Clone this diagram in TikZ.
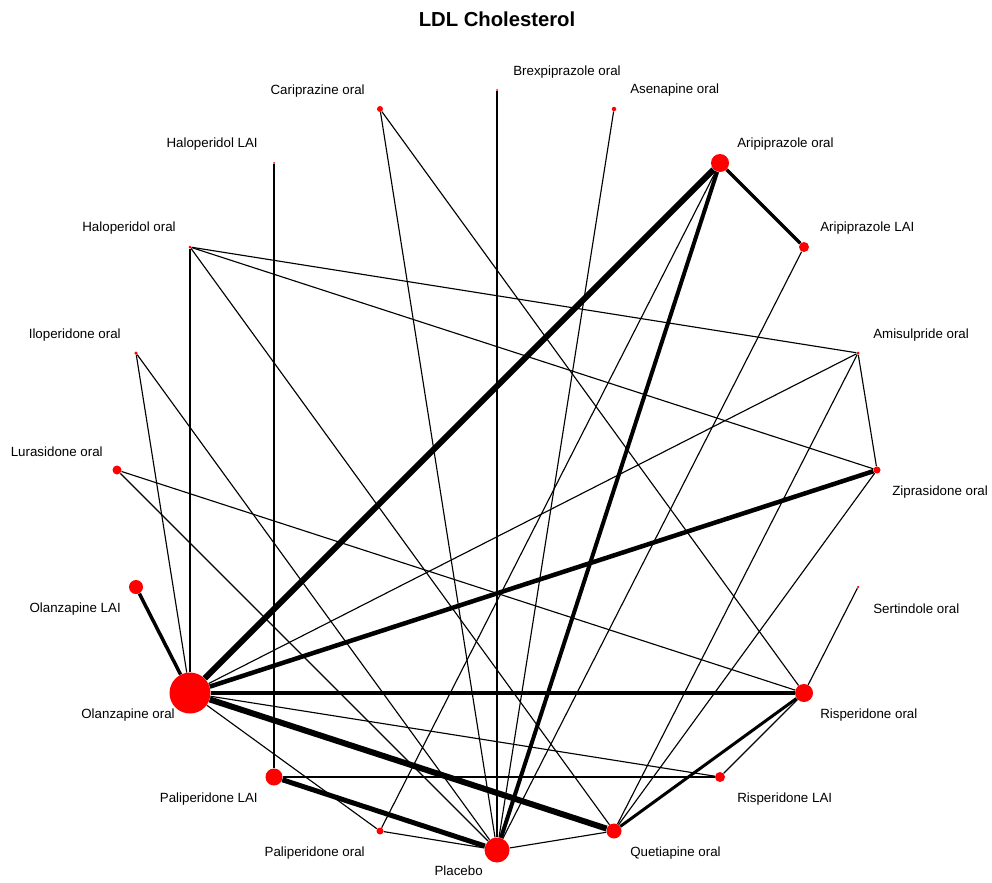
\documentclass[tikz,border=0pt]{standalone}
\usepackage{fontspec}
\setmainfont{Liberation Sans}
\usetikzlibrary{positioning,backgrounds}

\begin{document}
\begin{tikzpicture}[x=0.75pt, y=-0.75pt,
    dot/.style={circle, fill=red, draw=none, inner sep=0pt, minimum size=#1*0.75pt},
    lbl/.style={font=\fontsize{10}{12}\selectfont, inner sep=0pt},
    link/.style={draw=black, line width=#1},
    link/.default=0.85pt]
            \useasboundingbox (0,0) rectangle (992,882);

            % Title
            \node[font=\bfseries\fontsize{15.2}{18}\selectfont] (title) at (497,19) {LDL Cholesterol};

            % Treatments (clockwise from the top)
            \node[dot=2] (brex) at (497,90) {};
            \node[dot=4.5] (asen) at (614,109) {};
            \node[dot=18] (aripo) at (720,163) {};
            \node[dot=10] (aripl) at (804,247) {};
            \node[dot=3] (amis) at (858,353) {};
            \node[dot=7] (zipr) at (877,470) {};
            \node[dot=2.5] (sert) at (858,587) {};
            \node[dot=18] (rispo) at (804,693) {};
            \node[dot=10] (rispl) at (720,777) {};
            \node[dot=15] (quet) at (614,831) {};
            \node[dot=25] (plac) at (497,850) {};
            \node[dot=7] (palio) at (380,831) {};
            \node[dot=17] (palil) at (274,777) {};
            \node[dot=41] (olzo) at (190,693) {};
            \node[dot=14] (olzl) at (136,587) {};
            \node[dot=9] (luras) at (117,470) {};
            \node[dot=3.5] (ilo) at (136,353) {};
            \node[dot=3] (halo) at (190,247) {};
            \node[dot=2] (hall) at (274,163) {};
            \node[dot=6] (cari) at (380,109) {};

            % Labels, right half
            \node[lbl, anchor=west] (brexlbl) at ([shift={(16,-18)}]brex.center) {Brexpiprazole oral};
            \node[lbl, anchor=west] (asenlbl) at ([shift={(16,-19)}]asen.center) {Asenapine oral};
            \node[lbl, anchor=west] (aripolbl) at ([shift={(17,-19)}]aripo.center) {Aripiprazole oral};
            \node[lbl, anchor=west] (ariplbl) at ([shift={(16,-19)}]aripl.center) {Aripiprazole LAI};
            \node[lbl, anchor=west] (amislbl) at ([shift={(15,-18)}]amis.center) {Amisulpride oral};
            \node[lbl, anchor=west] (ziprlbl) at ([shift={(15,22)}]zipr.center) {Ziprasidone oral};
            \node[lbl, anchor=west] (sertlbl) at ([shift={(15,22)}]sert.center) {Sertindole oral};
            \node[lbl, anchor=west] (rispolbl) at ([shift={(16,22)}]rispo.center) {Risperidone oral};
            \node[lbl, anchor=west] (rispllbl) at ([shift={(17,22)}]rispl.center) {Risperidone LAI};
            \node[lbl, anchor=west] (quetlbl) at ([shift={(16,22)}]quet.center) {Quetiapine oral};

            % Labels, left half
            \node[lbl, anchor=east] (placlbl) at ([shift={(-14,21)}]plac.center) {Placebo};
            \node[lbl, anchor=east] (paliolbl) at ([shift={(-15,22)}]palio.center) {Paliperidone oral};
            \node[lbl, anchor=east] (palillbl) at ([shift={(-16,22)}]palil.center) {Paliperidone LAI};
            \node[lbl, anchor=east] (olzolbl) at ([shift={(-15,22)}]olzo.center) {Olanzapine oral};
            \node[lbl, anchor=east] (olzllbl) at ([shift={(-15,22)}]olzl.center) {Olanzapine LAI};
            \node[lbl, anchor=east] (luraslbl) at ([shift={(-14,-18)}]luras.center) {Lurasidone oral};
            \node[lbl, anchor=east] (ilolbl) at ([shift={(-15,-18)}]ilo.center) {Iloperidone oral};
            \node[lbl, anchor=east] (halolbl) at ([shift={(-14,-19)}]halo.center) {Haloperidol oral};
            \node[lbl, anchor=east] (halllbl) at ([shift={(-16,-19)}]hall.center) {Haloperidol LAI};
            \node[lbl, anchor=east] (carilbl) at ([shift={(-15,-18)}]cari.center) {Cariprazine oral};

            \begin{pgfonlayer}{background}
            % Comparisons with olanzapine oral
            \draw[link=4.5pt] (olzo) -- (aripo);
            \draw[link=3.4pt] (olzo) -- (zipr);
            \draw[link=3.4pt] (olzo) -- (rispo);
            \draw[link=4.5pt] (olzo) -- (quet);
            \draw[link=2.6pt] (olzo) -- (olzl);
            \draw[link] (olzo) -- (halo);
            \draw[link] (olzo) -- (ilo);
            \draw[link] (olzo) -- (amis);
            \draw[link] (olzo) -- (rispl);
            \draw[link] (olzo) -- (palio);

            % Comparisons with placebo
            \draw[link=3pt] (plac) -- (aripo);
            \draw[link=3.75pt] (plac) -- (palil);
            \draw[link] (plac) -- (aripl);
            \draw[link] (plac) -- (brex);
            \draw[link] (plac) -- (cari);
            \draw[link] (plac) -- (asen);
            \draw[link] (plac) -- (quet);
            \draw[link] (plac) -- (luras);
            \draw[link] (plac) -- (ilo);
            \draw[link] (plac) -- (palio);

            % Other head-to-head trials
            \draw[link=2.6pt] (aripo) -- (aripl);
            \draw[link] (aripo) -- (palio);
            \draw[link=2.25pt] (quet) -- (rispo);
            \draw[link] (quet) -- (amis);
            \draw[link] (quet) -- (zipr);
            \draw[link] (quet) -- (halo);
            \draw[link] (hall) -- (palil);
            \draw[link] (palil) -- (rispl);
            \draw[link] (rispo) -- (sert);
            \draw[link] (rispo) -- (luras);
            \draw[link] (rispo) -- (cari);
            \draw[link] (rispo) -- (rispl);
            \draw[link] (halo) -- (amis);
            \draw[link] (halo) -- (zipr);
            \draw[link] (amis) -- (zipr);
            \end{pgfonlayer}
        \end{tikzpicture}
\end{document}
